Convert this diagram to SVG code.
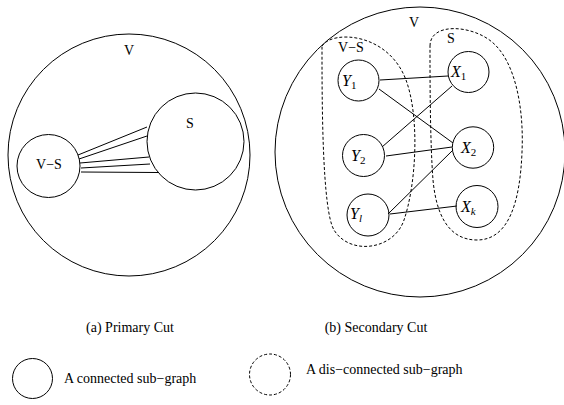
<svg xmlns="http://www.w3.org/2000/svg" width="564" height="405" viewBox="0 0 564 405">
<style>
.c{fill:none;stroke:#000;stroke-width:1}
.d{fill:none;stroke:#000;stroke-width:1;stroke-dasharray:3,2}
.t{font-family:"Liberation Serif","Times New Roman",serif;font-size:14px;fill:#000}
.m{font-family:"Liberation Serif","Times New Roman",serif;font-style:italic;font-size:16px;fill:#000}
.s{font-size:11px;font-style:normal}
.si{font-size:11px;font-style:italic}
line{stroke:#000;stroke-width:1}
</style>
<rect width="564" height="405" fill="#fff"/>
<g id="panel-a">
<g id="V-a"><circle class="c" cx="129" cy="155" r="121"/><text class="t" x="129" y="55" text-anchor="middle">V</text></g>
<g id="VS-a"><circle class="c" cx="48.5" cy="166" r="31.5"/><text class="t" x="49" y="169" text-anchor="middle">V−S</text></g>
<g id="S-a"><circle class="c" cx="195.5" cy="141.5" r="48.5"/><text class="t" x="190" y="128" text-anchor="middle">S</text></g>
</g>
<g id="connectors-a">
<line x1="78" y1="155" x2="147" y2="127"/>
<line x1="79" y1="159" x2="147" y2="136"/>
<line x1="80" y1="163" x2="149" y2="157"/>
<line x1="81" y1="168" x2="150" y2="164"/>
<line x1="81" y1="172" x2="158" y2="172.5"/>
</g>
<g id="panel-b">
<g id="V-b"><circle class="c" cx="420" cy="152" r="145"/><text class="t" x="414" y="27" text-anchor="middle">V</text></g>
<g id="VS-b"><path class="d" d="M322,46 C332,30 388,32 406,80 C420,118 416,185 404,220 C394,250 350,256 334,230 C322,210 322,100 322,46 Z"/><text class="t" x="351" y="52" text-anchor="middle">V−S</text></g>
<g id="S-b"><path class="d" d="M430,46 C430,22 472,25 492,42 C516,62 524,110 522,152 C520,204 508,240 477,240 C447,240 436,212 433,180 C430,140 430,80 430,46 Z"/><text class="t" x="451" y="43" text-anchor="middle">S</text></g>
<g id="Y1"><circle class="c" cx="358.5" cy="80.5" r="20.5"/><text class="m" x="342" y="86">Y<tspan class="s" dy="3">1</tspan></text></g>
<g id="X1"><circle class="c" cx="468.5" cy="72" r="20.5"/><text class="m" x="451" y="77">X<tspan class="s" dy="3">1</tspan></text></g>
<g id="Y2"><circle class="c" cx="363.5" cy="155.5" r="21"/><text class="m" x="351" y="161">Y<tspan class="s" dy="3">2</tspan></text></g>
<g id="X2"><circle class="c" cx="473" cy="147.5" r="20.7"/><text class="m" x="461" y="153">X<tspan class="s" dy="3">2</tspan></text></g>
<g id="Yl"><circle class="c" cx="368" cy="215" r="21"/><text class="m" x="350" y="219">Y<tspan class="si" dy="3">l</tspan></text></g>
<g id="Xk"><circle class="c" cx="477" cy="206.5" r="21"/><text class="m" x="461" y="212">X<tspan class="si" dy="3">k</tspan></text></g>
</g>
<g id="connectors-b">
<line x1="380" y1="80" x2="448" y2="76"/>
<line x1="379" y1="89" x2="453" y2="143"/>
<line x1="382" y1="147" x2="452" y2="86"/>
<line x1="386" y1="156" x2="452" y2="147"/>
<line x1="388" y1="214" x2="453" y2="150"/>
<line x1="390" y1="214" x2="457" y2="206"/>
</g>
<g id="captions">
<text class="t" x="130" y="332" text-anchor="middle">(a) Primary Cut</text>
<text class="t" x="376" y="332" text-anchor="middle">(b) Secondary Cut</text>
</g>
<g id="legend">
<g id="legend-connected"><circle class="c" cx="32.5" cy="378.5" r="20"/><text class="t" x="64" y="383">A connected sub−graph</text></g>
<g id="legend-disconnected"><circle class="d" cx="270" cy="374.5" r="20.5"/><text class="t" x="306" y="374">A dis−connected sub−graph</text></g>
</g>
</svg>
